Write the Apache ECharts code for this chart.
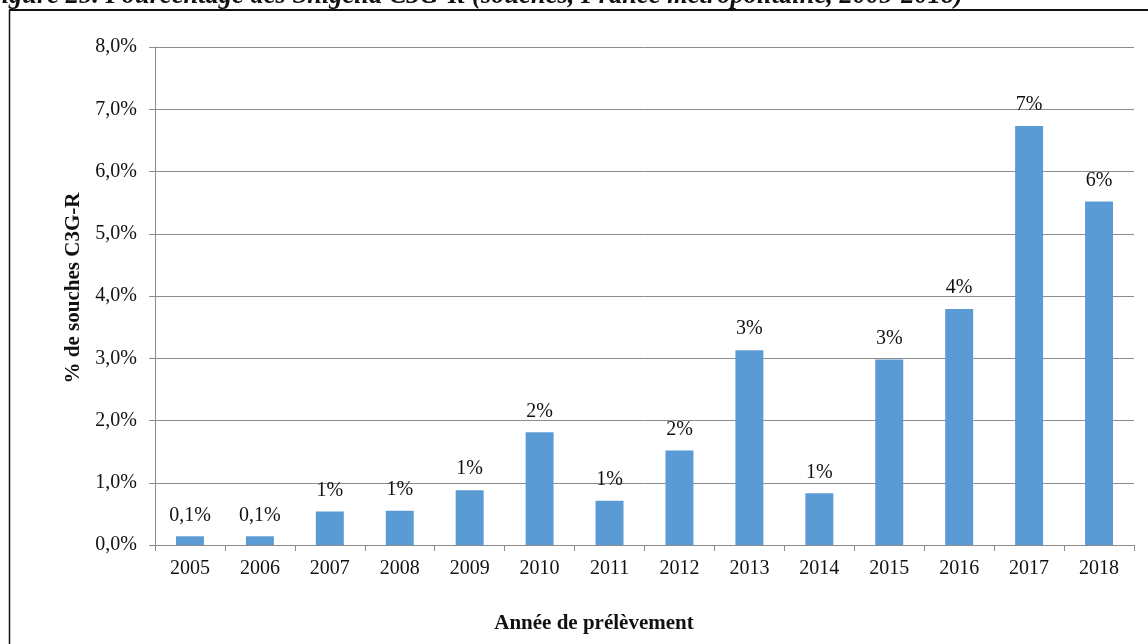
<!DOCTYPE html>
<html>
<head>
<meta charset="utf-8">
<script src="https://cdn.jsdelivr.net/npm/echarts@6/dist/echarts.min.js"></script>
<style>
  html, body { margin: 0; padding: 0; background: #fff; }
  #chart { width: 1148px; height: 644px; }
</style>
</head>
<body>
<div id="chart"></div>
<script>
// Share of Shigella strains resistant to 3rd-generation cephalosporins, by year
const years = ['2005', '2006', '2007', '2008', '2009', '2010', '2011', '2012', '2013', '2014', '2015', '2016', '2017', '2018'];
const pctResistant = [0.14, 0.14, 0.54, 0.55, 0.88, 1.81, 0.71, 1.52, 3.13, 0.83, 2.98, 3.79, 6.73, 5.52];
const yTicks = { min: 0, max: 8, interval: 1 };

const serif = '"Liberation Serif", "Times New Roman", serif';
const gridColor = '#8c8c8c';

const fmtAxis = v => v.toFixed(1).replace('.', ',') + '%';
const fmtLabel = v => (v < 0.5 ? v.toFixed(1).replace('.', ',') : Math.round(v)) + '%';

const chart = echarts.init(document.getElementById('chart'), null, { renderer: 'canvas' });
chart.setOption({
  animation: false,
  backgroundColor: '#fff',
  grid: { left: 155, right: 14, top: 47, bottom: 99 },
  xAxis: {
    type: 'category',
    data: years,
    boundaryGap: true,
    axisLine: { lineStyle: { color: gridColor, width: 1 } },
    axisTick: { show: true, length: 6, lineStyle: { color: gridColor } },
    axisLabel: { color: '#111', fontFamily: serif, fontSize: 20, margin: 14 }
  },
  yAxis: {
    type: 'value',
    min: yTicks.min,
    max: yTicks.max,
    interval: yTicks.interval,
    axisLine: { show: true, lineStyle: { color: gridColor, width: 1 } },
    axisTick: { show: true, length: 6, lineStyle: { color: gridColor } },
    splitLine: { lineStyle: { color: gridColor, width: 1 } },
    axisLabel: { color: '#111', fontFamily: serif, fontSize: 20, margin: 18, formatter: fmtAxis }
  },
  series: [{
    type: 'bar',
    data: pctResistant,
    barCategoryGap: '60%',
    itemStyle: { color: '#5b9bd5' },
    label: {
      show: true,
      position: 'top',
      distance: 11,
      color: '#111',
      fontFamily: serif,
      fontSize: 20,
      formatter: p => fmtLabel(p.value)
    }
  }],
  graphic: [
    // page frame around the figure
    { type: 'line', shape: { x1: 9, y1: 10, x2: 1148, y2: 10 }, style: { stroke: '#111', lineWidth: 2 } },
    { type: 'line', shape: { x1: 9.5, y1: 10, x2: 9.5, y2: 644 }, style: { stroke: '#111', lineWidth: 1.5 } },
    // figure caption
    {
      type: 'text', left: -16, top: -17,
      style: {
        text: 'Figure 25. Pourcentage des Shigella C3G-R (souches, France métropolitaine, 2005-2018)',
        font: 'italic bold 26.5px ' + serif, fill: '#111'
      }
    },
    // axis titles
    {
      type: 'text', x: 74, y: 288, rotation: Math.PI / 2,
      style: {
        text: '% de souches C3G-R', font: 'bold 21px ' + serif, fill: '#111',
        align: 'center', verticalAlign: 'middle'
      }
    },
    {
      type: 'text', x: 594, y: 624,
      style: {
        text: 'Année de prélèvement', font: 'bold 21px ' + serif, fill: '#111',
        align: 'center', verticalAlign: 'middle'
      }
    }
  ]
});
</script>
</body>
</html>
